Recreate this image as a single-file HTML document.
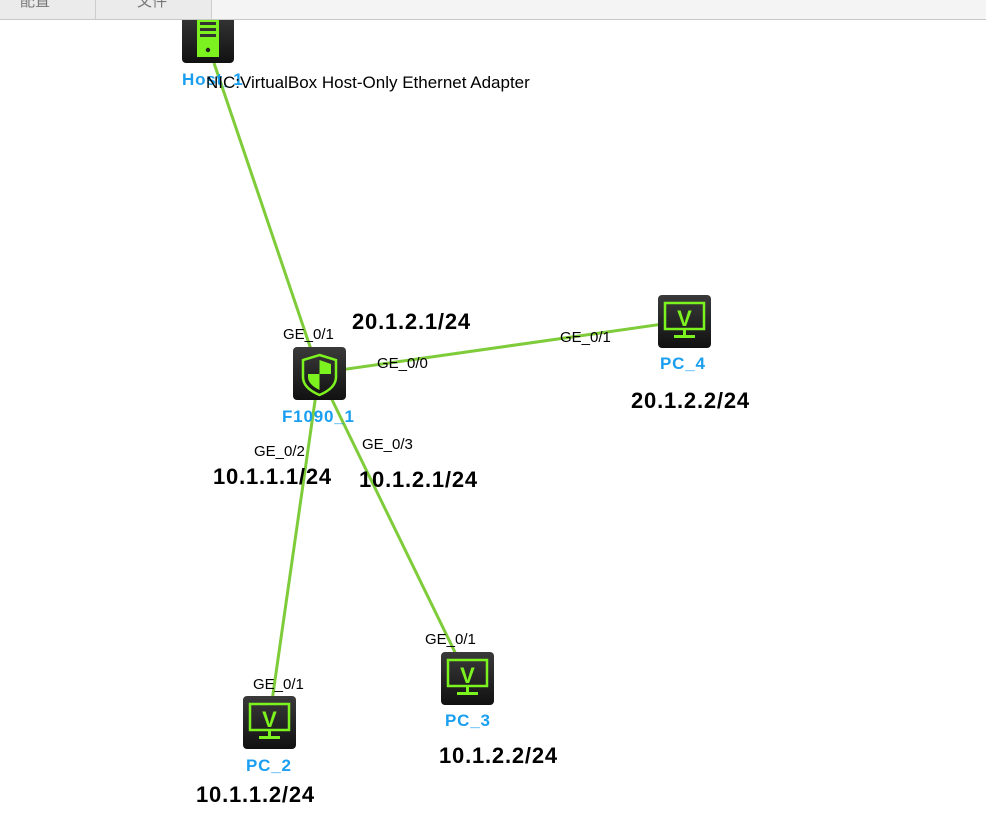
<!DOCTYPE html>
<html><head><meta charset="utf-8"><style>
body{margin:0;width:986px;height:823px;background:#fff;overflow:hidden;position:relative;font-family:"Liberation Sans","Noto Sans CJK SC",sans-serif}
.t{position:absolute;white-space:nowrap;line-height:1}
.ge{font-size:15px;color:#000}
.ip{font-size:22px;font-weight:bold;color:#000;letter-spacing:0.8px}
.nm{font-size:17px;font-weight:bold;color:#1a9ff0;letter-spacing:0.8px}
</style></head><body>
<svg width="986" height="823" style="position:absolute;left:0;top:0">
<defs><linearGradient id="g" x1="0" y1="0" x2="0" y2="1"><stop offset="0" stop-color="#3a3a3a"/><stop offset="1" stop-color="#111"/></linearGradient>
<g id="pc">
<rect x="0" y="0" width="53" height="53" rx="4" fill="url(#g)"/>
<rect x="7" y="8" width="39" height="26" fill="none" stroke="#7cf21e" stroke-width="2.5"/>
<text x="26.5" y="31" text-anchor="middle" font-family="Liberation Sans" font-weight="bold" font-size="22" fill="#7cf21e">V</text>
<rect x="25" y="35" width="3" height="5" fill="#7cf21e"/>
<rect x="16" y="40" width="21" height="3" fill="#7cf21e"/>
</g></defs>
<g stroke="#7fcc3a" stroke-width="3">
<line x1="214" y1="63" x2="319" y2="373"/>
<line x1="319" y1="373" x2="684" y2="321"/>
<line x1="319" y1="373" x2="269" y2="722"/>
<line x1="319" y1="373" x2="468" y2="679"/>
</g>
<rect x="182" y="10" width="52" height="53" rx="4" fill="url(#g)"/>
<rect x="197" y="12" width="22" height="45" fill="#7cf21e"/>
<rect x="200" y="22" width="16" height="3" fill="#333"/><rect x="200" y="28" width="16" height="3" fill="#333"/><rect x="200" y="34" width="16" height="3" fill="#333"/>
<circle cx="208" cy="50" r="2.2" fill="#222"/>
<rect x="293" y="347" width="53" height="53" rx="4" fill="url(#g)"/>
<path d="M319.5 355 L336 360 L336 377 Q336 388 319.5 395 Q303 388 303 377 L303 360 Z" fill="none" stroke="#7cf21e" stroke-width="2.5"/>
<path d="M319.5 360 L331 364 L331 374 L319.5 374 Z" fill="#7cf21e"/>
<path d="M319.5 374 L308 374 L308 378 Q309 385 319.5 390 Z" fill="#7cf21e"/>
<use href="#pc" x="658" y="295"/>
<use href="#pc" x="441" y="652"/>
<use href="#pc" x="243" y="696"/>
</svg>
<div style="position:absolute;left:0;top:0;width:986px;height:19px;background:#f4f4f4;border-bottom:1px solid #c8c8c8"></div>
<div style="position:absolute;left:0;top:0;width:95px;height:19px;background:#ebebeb;border-right:1px solid #ccc"></div>
<div style="position:absolute;left:96px;top:0;width:115px;height:19px;background:#ebebeb;border-right:1px solid #ccc"></div>
<div class="t" style="left:20px;top:-6px;font-size:15px;color:#777">配置</div>
<div class="t" style="left:137px;top:-6px;font-size:15px;color:#777">文件</div>
<div class="t nm" style="left:182px;top:71px">Host_1</div>
<div class="t" style="left:206px;top:74px;font-size:17px;color:#000">NIC:VirtualBox Host-Only Ethernet Adapter</div>
<div class="t ge" style="left:283px;top:327px">GE_0/1</div>
<div class="t ip" style="left:352px;top:311px">20.1.2.1/24</div>
<div class="t ge" style="left:377px;top:356px">GE_0/0</div>
<div class="t ge" style="left:560px;top:330px">GE_0/1</div>
<div class="t nm" style="left:660px;top:355px">PC_4</div>
<div class="t ip" style="left:631px;top:390px">20.1.2.2/24</div>
<div class="t nm" style="left:282px;top:408px">F1090_1</div>
<div class="t ge" style="left:254px;top:444px">GE_0/2</div>
<div class="t ge" style="left:362px;top:437px">GE_0/3</div>
<div class="t ip" style="left:213px;top:466px">10.1.1.1/24</div>
<div class="t ip" style="left:359px;top:469px">10.1.2.1/24</div>
<div class="t ge" style="left:425px;top:632px">GE_0/1</div>
<div class="t nm" style="left:445px;top:712px">PC_3</div>
<div class="t ip" style="left:439px;top:745px">10.1.2.2/24</div>
<div class="t ge" style="left:253px;top:677px">GE_0/1</div>
<div class="t nm" style="left:246px;top:757px">PC_2</div>
<div class="t ip" style="left:196px;top:784px">10.1.1.2/24</div>
</body></html>
